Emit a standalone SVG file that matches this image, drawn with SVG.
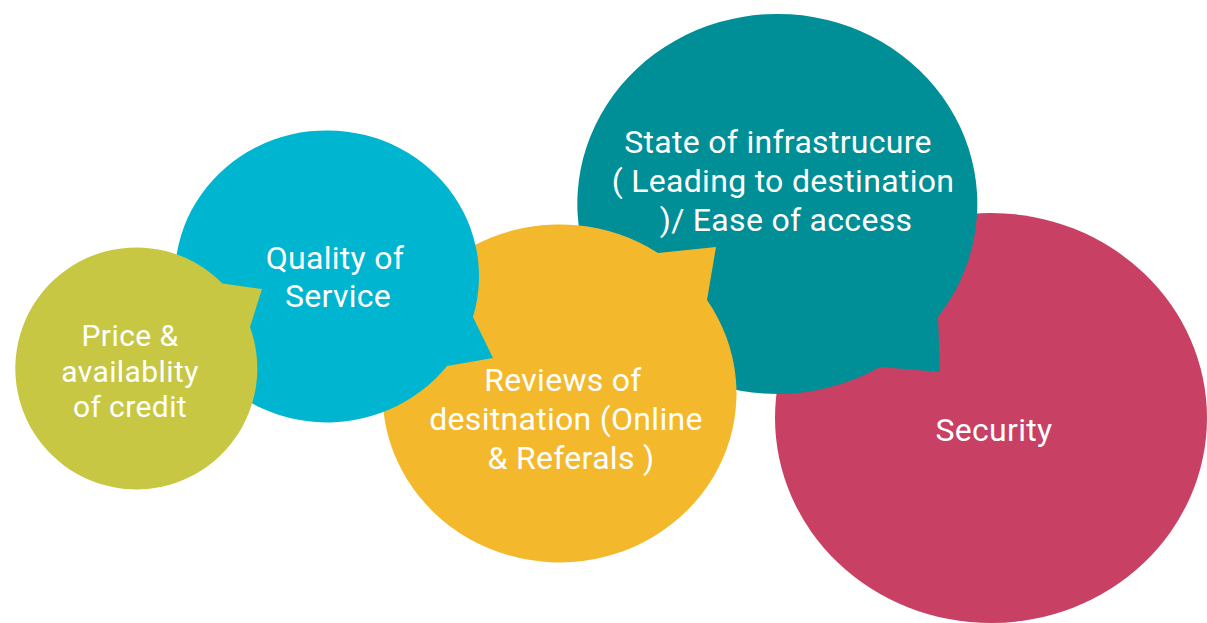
<svg xmlns="http://www.w3.org/2000/svg" width="1207" height="623" viewBox="0 0 1207 623">
  <style>
    .label { font-family: Roboto, "Liberation Sans", Arial, sans-serif; font-weight: 400; fill: #ffffff; text-anchor: middle; }
    .big { font-size: 32px; letter-spacing: 0.3px; }
    .small { font-size: 30px; letter-spacing: 0.4px; }
    .pink { fill: #C84165; }
    .teal { fill: #008E97; }
    .yellow { fill: #F4B82C; }
    .cyan { fill: #00B5D0; }
    .green { fill: #C8C744; }
  </style>
  <rect width="1207" height="623" fill="#ffffff"/>

  <!-- back to front: each speech bubble overlaps the one behind it -->
  <g id="security">
    <ellipse class="pink" cx="991" cy="418" rx="216" ry="205"/>
    <text class="label big" x="994" y="441">Security</text>
  </g>

  <g id="infrastructure">
    <path class="teal" d="M 880 367 L 940 372 L 938 317 L 948 303 A 200 190 0 1 0 880 367 Z"/>
    <text class="label big" x="778" y="153">State of infrastrucure</text>
    <text class="label big" x="783" y="192">( Leading to destination</text>
    <text class="label big" x="786" y="231">)/ Ease of access</text>
  </g>

  <g id="reviews">
    <path class="yellow" d="M 658 253 L 716 247 L 707 300 A 177 169 0 1 1 658 253 Z"/>
    <text class="label big" x="563" y="391">Reviews of</text>
    <text class="label big" x="566" y="430">desitnation (Online</text>
    <text class="label big" x="571" y="469">&amp; Referals )</text>
  </g>

  <g id="quality">
    <path class="cyan" d="M 473 317 L 493 358 L 447 366 A 152 146 0 1 1 473 317 Z"/>
    <text class="label big" x="335" y="269">Quality of</text>
    <text class="label big" x="338" y="307">Service</text>
  </g>

  <g id="credit">
    <path class="green" d="M 222.5 283.5 L 262 289 L 250 327 A 121 121 0 1 1 222.5 283.5 Z"/>
    <text class="label small" x="130" y="346">Price &amp;</text>
    <text class="label small" x="130" y="382">availablity</text>
    <text class="label small" x="130" y="417">of credit</text>
  </g>
</svg>
